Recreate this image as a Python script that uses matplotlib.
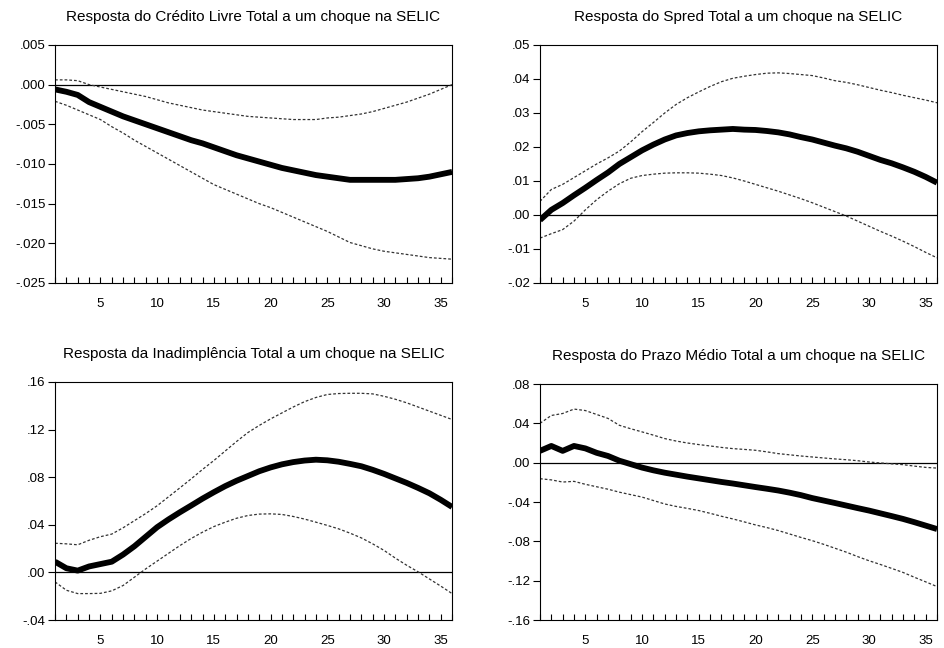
import matplotlib
matplotlib.use("Agg")
import matplotlib.pyplot as plt
from matplotlib.ticker import FixedLocator, FixedFormatter, MultipleLocator

plt.rcParams['font.family'] = ['Liberation Sans', 'DejaVu Sans']

periods = list(range(1, 37))

titles = [
    "Resposta do Crédito Livre Total a um choque na SELIC",
    "Resposta do Spred Total a um choque na SELIC",
    "Resposta da Inadimplência Total a um choque na SELIC",
    "Resposta do Prazo Médio Total a um choque na SELIC",
]

# Panel 1: Crédito Livre
credito_resp = [-0.0006, -0.0009, -0.0013, -0.0022, -0.0028, -0.0034, -0.0040, -0.0045, -0.0050, -0.0055,
                -0.0060, -0.0065, -0.0070, -0.0074, -0.0079, -0.0084, -0.0089, -0.0093, -0.0097, -0.0101,
                -0.0105, -0.0108, -0.0111, -0.0114, -0.0116, -0.0118, -0.0120, -0.0120, -0.0120, -0.0120,
                -0.0120, -0.0119, -0.0118, -0.0116, -0.0113, -0.0110]
credito_upper = [0.0006, 0.0006, 0.0005, 0.0000, -0.0003, -0.0006, -0.0009, -0.0012, -0.0015, -0.0019,
                 -0.0023, -0.0026, -0.0029, -0.0032, -0.0034, -0.0036, -0.0038, -0.0040, -0.0041, -0.0042,
                 -0.0043, -0.0044, -0.0044, -0.0044, -0.0042, -0.0041, -0.0039, -0.0037, -0.0034, -0.0030,
                 -0.0026, -0.0022, -0.0017, -0.0012, -0.0006, 0.0000]
credito_lower = [-0.0021, -0.0026, -0.0032, -0.0038, -0.0044, -0.0053, -0.0061, -0.0070, -0.0078, -0.0086,
                 -0.0094, -0.0102, -0.0110, -0.0118, -0.0126, -0.0132, -0.0138, -0.0144, -0.0150, -0.0155,
                 -0.0161, -0.0167, -0.0173, -0.0179, -0.0185, -0.0192, -0.0199, -0.0203, -0.0207, -0.0210,
                 -0.0212, -0.0214, -0.0216, -0.0218, -0.0219, -0.0220]

# Panel 2: Spread
spread_resp = [-0.0015, 0.0015, 0.0035, 0.0058, 0.0080, 0.0103, 0.0125, 0.0150, 0.0170, 0.0190,
               0.0207, 0.0222, 0.0234, 0.0241, 0.0246, 0.0249, 0.0251, 0.0253, 0.0251, 0.0250,
               0.0247, 0.0243, 0.0237, 0.0229, 0.0222, 0.0213, 0.0204, 0.0196, 0.0186, 0.0174,
               0.0162, 0.0152, 0.0140, 0.0127, 0.0112, 0.0095]
spread_upper = [0.0040, 0.0075, 0.0090, 0.0110, 0.0130, 0.0150, 0.0168, 0.0188, 0.0215, 0.0245,
                0.0272, 0.0300, 0.0325, 0.0345, 0.0362, 0.0378, 0.0392, 0.0402, 0.0408, 0.0413,
                0.0417, 0.0418, 0.0416, 0.0413, 0.0410, 0.0403, 0.0395, 0.0390, 0.0383, 0.0375,
                0.0367, 0.0360, 0.0352, 0.0345, 0.0338, 0.0330]
spread_lower = [-0.0068, -0.0055, -0.0043, -0.0018, 0.0015, 0.0045, 0.0070, 0.0092, 0.0108, 0.0116,
                0.0120, 0.0123, 0.0124, 0.0124, 0.0123, 0.0120, 0.0116, 0.0109, 0.0100, 0.0090,
                0.0080, 0.0070, 0.0059, 0.0048, 0.0036, 0.0023, 0.0010, -0.0003, -0.0018, -0.0033,
                -0.0048, -0.0062, -0.0077, -0.0093, -0.0110, -0.0126]

# Panel 3: Inadimplência
inad_resp = [0.0090, 0.0035, 0.0015, 0.0050, 0.0070, 0.0090, 0.0150, 0.0220, 0.0300, 0.0380,
             0.0445, 0.0505, 0.0562, 0.0620, 0.0674, 0.0725, 0.0770, 0.0810, 0.0850, 0.0882,
             0.0908, 0.0927, 0.0940, 0.0947, 0.0942, 0.0930, 0.0912, 0.0892, 0.0862, 0.0828,
             0.0790, 0.0752, 0.0710, 0.0665, 0.0610, 0.0550]
inad_upper = [0.0245, 0.0240, 0.0232, 0.0270, 0.0300, 0.0322, 0.0375, 0.0435, 0.0495, 0.0560,
              0.0635, 0.0710, 0.0786, 0.0865, 0.0940, 0.1020, 0.1100, 0.1175, 0.1235, 0.1290,
              0.1340, 0.1390, 0.1435, 0.1470, 0.1495, 0.1503, 0.1505, 0.1505, 0.1500, 0.1480,
              0.1455, 0.1425, 0.1390, 0.1355, 0.1320, 0.1285]
inad_lower = [-0.0080, -0.0150, -0.0178, -0.0178, -0.0176, -0.0155, -0.0110, -0.0040, 0.0030, 0.0095,
              0.0160, 0.0225, 0.0285, 0.0338, 0.0385, 0.0422, 0.0455, 0.0478, 0.0490, 0.0492,
              0.0487, 0.0470, 0.0448, 0.0422, 0.0395, 0.0366, 0.0330, 0.0290, 0.0240, 0.0185,
              0.0120, 0.0060, 0.0005, -0.0055, -0.0115, -0.0178]

# Panel 4: Prazo Médio
prazo_resp = [0.0120, 0.0170, 0.0120, 0.0170, 0.0145, 0.0100, 0.0068, 0.0020, -0.0015, -0.0050,
              -0.0078, -0.0102, -0.0122, -0.0142, -0.0160, -0.0178, -0.0196, -0.0212, -0.0230, -0.0248,
              -0.0265, -0.0283, -0.0305, -0.0330, -0.0360, -0.0385, -0.0410, -0.0436, -0.0462, -0.0487,
              -0.0515, -0.0543, -0.0572, -0.0605, -0.0640, -0.0675]
prazo_upper = [0.0400, 0.0480, 0.0500, 0.0545, 0.0530, 0.0490, 0.0450, 0.0380, 0.0345, 0.0313,
               0.0280, 0.0245, 0.0220, 0.0200, 0.0184, 0.0170, 0.0155, 0.0143, 0.0135, 0.0126,
               0.0110, 0.0092, 0.0080, 0.0068, 0.0058, 0.0048, 0.0038, 0.0030, 0.0020, 0.0007,
               -0.0003, -0.0012, -0.0020, -0.0035, -0.0048, -0.0055]
prazo_lower = [-0.0163, -0.0175, -0.0197, -0.0190, -0.0220, -0.0245, -0.0270, -0.0300, -0.0325, -0.0350,
               -0.0385, -0.0420, -0.0445, -0.0465, -0.0487, -0.0515, -0.0545, -0.0572, -0.0602, -0.0633,
               -0.0660, -0.0690, -0.0725, -0.0760, -0.0793, -0.0830, -0.0870, -0.0910, -0.0955, -0.0997,
               -0.1035, -0.1075, -0.1116, -0.1165, -0.1212, -0.1260]

# Y tick values and labels
credito_yticks = [0.005, 0.0, -0.005, -0.010, -0.015, -0.020, -0.025]
credito_ylabels = [".005", ".000", "-.005", "-.010", "-.015", "-.020", "-.025"]
spread_yticks = [0.05, 0.04, 0.03, 0.02, 0.01, 0.0, -0.01, -0.02]
spread_ylabels = [".05", ".04", ".03", ".02", ".01", ".00", "-.01", "-.02"]
inad_yticks = [0.16, 0.12, 0.08, 0.04, 0.0, -0.04]
inad_ylabels = [".16", ".12", ".08", ".04", ".00", "-.04"]
prazo_yticks = [0.08, 0.04, 0.0, -0.04, -0.08, -0.12, -0.16]
prazo_ylabels = [".08", ".04", ".00", "-.04", "-.08", "-.12", "-.16"]

x_major = [5, 10, 15, 20, 25, 30, 35]

panels = [
    (credito_resp, credito_upper, credito_lower, credito_yticks, credito_ylabels, [0.0583, 0.5633, 0.4206, 0.3673]),
    (spread_resp, spread_upper, spread_lower, spread_yticks, spread_ylabels, [0.5720, 0.5633, 0.4206, 0.3673]),
    (inad_resp, inad_upper, inad_lower, inad_yticks, inad_ylabels, [0.0583, 0.0432, 0.4206, 0.3673]),
    (prazo_resp, prazo_upper, prazo_lower, prazo_yticks, prazo_ylabels, [0.5720, 0.0432, 0.4206, 0.3642]),
]

fig = plt.figure(figsize=(9.44, 6.48), dpi=100)

for (resp, up, lo, yt, yl, rect), title in zip(panels, titles):
    ax = fig.add_axes(rect)
    ax.axhline(0, color='black', lw=0.9, zorder=1)
    ax.plot(periods, up, color='#333333', lw=0.9, ls=(0, (2.2, 1.6)), zorder=2)
    ax.plot(periods, lo, color='#333333', lw=0.9, ls=(0, (2.2, 1.6)), zorder=2)
    ax.plot(periods, resp, color='black', lw=4.2, solid_capstyle='butt', zorder=3)
    ax.set_xlim(1, 36)
    ax.set_ylim(min(yt), max(yt))
    ax.yaxis.set_major_locator(FixedLocator(yt))
    ax.yaxis.set_major_formatter(FixedFormatter(yl))
    ax.xaxis.set_major_locator(FixedLocator(x_major))
    ax.xaxis.set_minor_locator(MultipleLocator(1))
    ax.tick_params(axis='x', which='both', direction='in', length=4, width=0.8,
                   labelsize=9.5, pad=11, colors='black')
    ax.tick_params(axis='y', which='major', direction='out', length=5, width=0.8,
                   labelsize=9.5, pad=2, colors='black')
    for s in ax.spines.values():
        s.set_linewidth(0.8)
        s.set_color('black')
    ax.set_title(title, fontsize=11, pad=17)

fig.savefig("out.png", dpi=100)
